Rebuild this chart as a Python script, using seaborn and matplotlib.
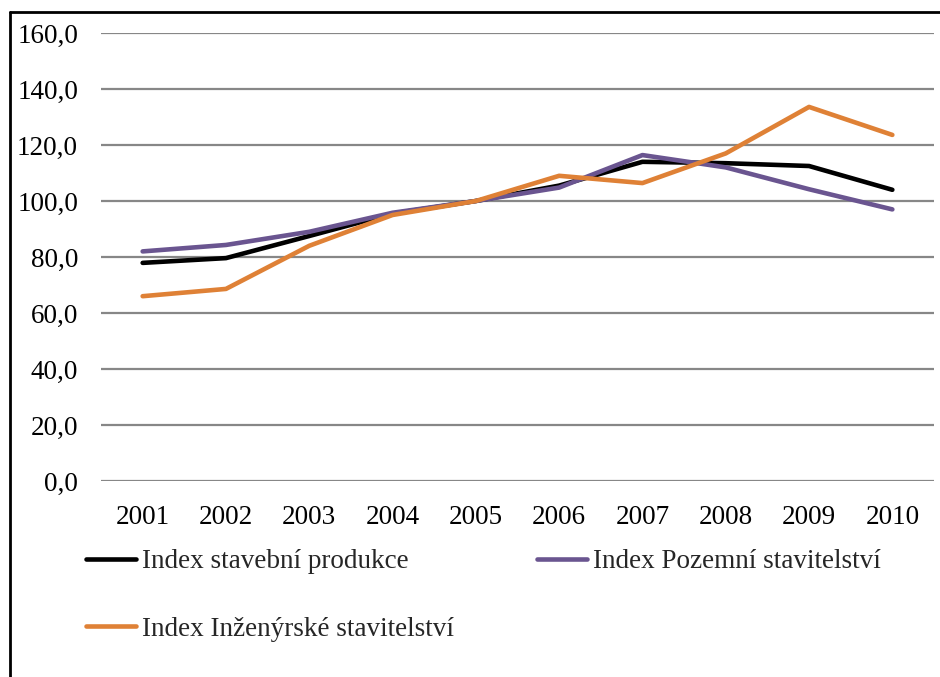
import matplotlib
matplotlib.use("Agg")
import matplotlib.pyplot as plt
import seaborn as sns
import pandas as pd
from matplotlib.lines import Line2D
from matplotlib.ticker import FuncFormatter

years = ["2001", "2002", "2003", "2004", "2005", "2006", "2007", "2008", "2009", "2010"]
stavebni = [77.9, 79.6, 87.5, 95.5, 100.0, 105.5, 114.0, 113.5, 112.5, 104.0]
pozemni = [82.0, 84.3, 89.0, 95.8, 100.0, 104.8, 116.4, 112.0, 104.2, 97.0]
inzenyrske = [66.0, 68.6, 84.0, 95.0, 100.0, 109.0, 106.4, 117.0, 133.6, 123.6]
series_names = ["Index stavební produkce", "Index Pozemní stavitelství", "Index Inženýrské stavitelství"]
colors = ["#000000", "#6A5590", "#DF8136"]
yticks = [0, 20, 40, 60, 80, 100, 120, 140, 160]

sns.set_theme(style="white")
plt.rcParams['font.family'] = ['Liberation Serif', 'DejaVu Serif']

rows = []
for name, vals in zip(series_names, [stavebni, pozemni, inzenyrske]):
    for i, (y, v) in enumerate(zip(years, vals)):
        rows.append({"idx": i, "year": y, "value": v, "series": name})
df = pd.DataFrame(rows)

fig = plt.figure(figsize=(9.4, 6.77), dpi=100)
ax = fig.add_axes([101/940, 1-481/677, (934-101)/940, (481-33)/677])

sns.lineplot(data=df, x="idx", y="value", hue="series", hue_order=series_names,
             palette=colors, linewidth=3.3, ax=ax, legend=False, zorder=3)

ax.set_xlim(-0.5, len(years)-0.5)
ax.set_ylim(0, 160)
ax.set_xticks(range(len(years)))
ax.set_xticklabels(years)
ax.set_yticks(yticks)
ax.yaxis.set_major_formatter(FuncFormatter(lambda v, p: f"{v:.1f}".replace(".", ",")))
ax.grid(axis="y", color="#878787", linewidth=1.6)
ax.grid(axis="x", visible=False)
for s in ax.spines.values():
    s.set_visible(False)
ax.tick_params(axis="both", length=0, labelsize=19.5, colors="black")
ax.tick_params(axis="y", pad=16.5)
ax.tick_params(axis="x", pad=17)
ax.set_xlabel("")
ax.set_ylabel("")

# legend
handles = [Line2D([], [], color=c, linewidth=3.3) for c in colors]
order = [0, 2, 1]
fig.legend([handles[i] for i in order], [series_names[i] for i in order],
           loc="upper left", bbox_to_anchor=(86/940, 1-549/677), ncol=2,
           frameon=False, fontsize=19.5, handlelength=1.85, handletextpad=0.22,
           labelspacing=1.58, columnspacing=3.05, borderpad=0, borderaxespad=0)

# outer frame (left and top)
fig.add_artist(Line2D([9.5/940, 9.5/940], [0, 1-12/677], color="black", linewidth=2.0,
                      transform=fig.transFigure))
fig.add_artist(Line2D([9.5/940, 1.0], [1-12/677, 1-12/677], color="black", linewidth=2.0,
                      transform=fig.transFigure))

fig.savefig("out.png", dpi=100, facecolor="white")
